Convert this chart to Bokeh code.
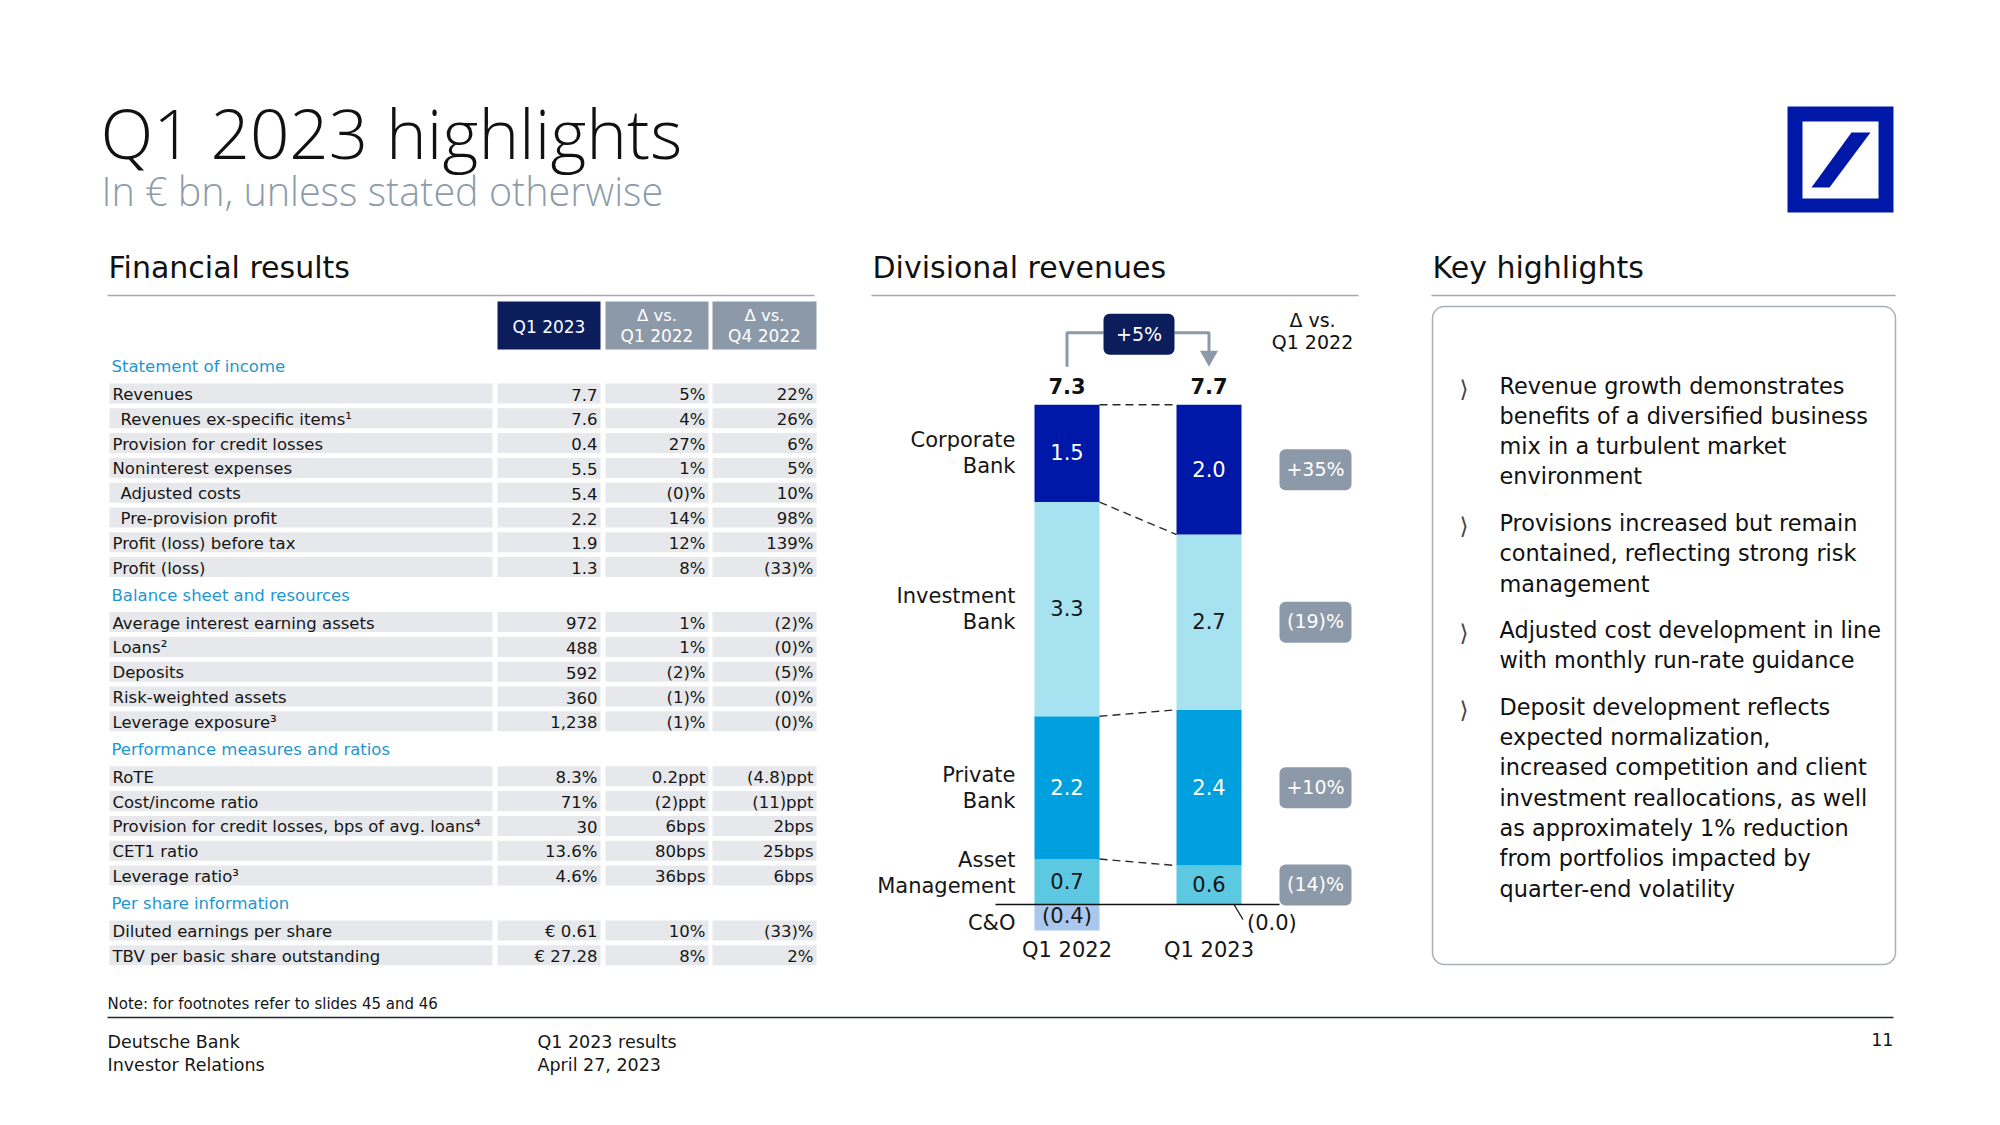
import math
from bokeh.plotting import figure
from bokeh.models import Range1d
from bokeh.core.properties import value
from bokeh.embed import file_html
from bokeh.resources import INLINE

# ---------------- data ----------------
table_col_titles = [["Q1 2023"], ["Δ vs.", "Q1 2022"], ["Δ vs.", "Q4 2022"]]

section_titles = ["Statement of income", "Balance sheet and resources",
                  "Performance measures and ratios", "Per share information"]

income_labels = ["Revenues", "Revenues ex-specific items¹", "Provision for credit losses",
                 "Noninterest expenses", "Adjusted costs", "Pre-provision profit",
                 "Profit (loss) before tax", "Profit (loss)"]
income_q1_2023 = ["7.7", "7.6", "0.4", "5.5", "5.4", "2.2", "1.9", "1.3"]
income_vs_q1_2022 = ["5%", "4%", "27%", "1%", "(0)%", "14%", "12%", "8%"]
income_vs_q4_2022 = ["22%", "26%", "6%", "5%", "10%", "98%", "139%", "(33)%"]

balance_labels = ["Average interest earning assets", "Loans²", "Deposits",
                  "Risk-weighted assets", "Leverage exposure³"]
balance_q1_2023 = ["972", "488", "592", "360", "1,238"]
balance_vs_q1_2022 = ["1%", "1%", "(2)%", "(1)%", "(1)%"]
balance_vs_q4_2022 = ["(2)%", "(0)%", "(5)%", "(0)%", "(0)%"]

perf_labels = ["RoTE", "Cost/income ratio", "Provision for credit losses, bps of avg. loans⁴",
               "CET1 ratio", "Leverage ratio³"]
perf_q1_2023 = ["8.3%", "71%", "30", "13.6%", "4.6%"]
perf_vs_q1_2022 = ["0.2ppt", "(2)ppt", "6bps", "80bps", "36bps"]
perf_vs_q4_2022 = ["(4.8)ppt", "(11)ppt", "2bps", "25bps", "6bps"]

share_labels = ["Diluted earnings per share", "TBV per basic share outstanding"]
share_q1_2023 = ["€ 0.61", "€ 27.28"]
share_vs_q1_2022 = ["10%", "8%"]
share_vs_q4_2022 = ["(33)%", "2%"]

indented_labels = ["Revenues ex-specific items¹", "Adjusted costs", "Pre-provision profit"]

divisions = [["Corporate", "Bank"], ["Investment", "Bank"], ["Private", "Bank"],
             ["Asset", "Management"], ["C&O"]]
periods = ["Q1 2022", "Q1 2023"]
rev_q1_2022 = [1.5, 3.3, 2.2, 0.7, -0.4]
rev_q1_2023 = [2.0, 2.7, 2.4, 0.6, -0.0]
rev_totals = [7.3, 7.7]
total_growth = "+5%"
division_growth = ["+35%", "(19)%", "+10%", "(14)%"]

highlights = [
    ["Revenue growth demonstrates", "benefits of a diversified business",
     "mix in a turbulent market", "environment"],
    ["Provisions increased but remain", "contained, reflecting strong risk", "management"],
    ["Adjusted cost development in line", "with monthly run-rate guidance"],
    ["Deposit development reflects", "expected normalization,",
     "increased competition and client", "investment reallocations, as well",
     "as approximately 1% reduction", "from portfolios impacted by",
     "quarter-end volatility"],
]

# ---------------- layout / style ----------------
W, H = 1984, 1100
TOP, BOTTOM = 0, H
ZERO_Y = 904.0
PX_PER_BN = 64.9

NAVY = "#0B1E5B"
DBBLUE = "#0018A8"
GREY = "#8C99A8"
BAND = "#E6E8EB"
HEAD_BLUE = "#1E96D2"
INK = "#161616"
FONT = "DejaVu Sans"
TITLE_FONT = "'Open Sans Light', 'Open Sans'"
seg_colors = ["#0018A8", "#A6E2F0", "#00A0DE", "#5CC8E2", "#AAC8EE"]
seg_text = ["white", INK, "white", INK, INK]

p = figure(width=W, height=H, output_backend="svg", toolbar_location=None,
           x_range=Range1d(0, W), y_range=Range1d(BOTTOM, TOP),
           x_axis_type=None, y_axis_type=None, min_border=0,
           outline_line_color=None, background_fill_color="white")
p.xgrid.visible = False
p.ygrid.visible = False
p.extra_y_ranges = {"bn": Range1d(start=(ZERO_Y - BOTTOM) / PX_PER_BN,
                                  end=(ZERO_Y - TOP) / PX_PER_BN)}


def bn(px):
    return px / PX_PER_BN


def txt(x, y, s, size, color=INK, align="left", baseline="middle", font=FONT,
        style="normal", rng="default"):
    p.text(x=[x], y=[y], text=[s], text_font=value(font), text_font_size=f"{size}px",
           text_color=color, text_align=align, text_baseline=baseline,
           text_font_style=style, y_range_name=rng)


# ---------------- title & logo ----------------
txt(100, 131, "Q1 2023 highlights", 69, color="#111111", font=TITLE_FONT)
txt(101, 190, "In € bn, unless stated otherwise", 39.5, color="#8D9BAA", font=TITLE_FONT)

p.quad(left=[1787], right=[1893], top=[106], bottom=[212], fill_color=DBBLUE, line_color=None)
p.quad(left=[1802], right=[1878], top=[121], bottom=[198], fill_color="white", line_color=None)
p.patch(x=[1811, 1829, 1870, 1851], y=[187, 187, 132, 132], fill_color=DBBLUE, line_color=None)

# ---------------- section headings ----------------
for x0, x1, label in [(107, 814, "Financial results"), (871, 1358, "Divisional revenues"),
                      (1431, 1895, "Key highlights")]:
    txt(x0 + 1, 267, label, 30, color="#111111")
    p.segment(x0=[x0], x1=[x1], y0=[295], y1=[295], line_color="#A4A9AF", line_width=1.3)

# ---------------- table ----------------
col_boxes = [(497, 600), (605, 708), (712, 816)]
col_fill = [NAVY, GREY, GREY]
for (l, r), fill, lines in zip(col_boxes, col_fill, table_col_titles):
    p.quad(left=[l], right=[r], top=[301], bottom=[349], fill_color=fill, line_color=None)
    cx = (l + r) / 2
    if len(lines) == 1:
        txt(cx, 326, lines[0], 17, color="white", align="center")
    else:
        txt(cx, 315, lines[0], 16.5, color="white", align="center")
        txt(cx, 335, lines[1], 17, color="white", align="center")

sections = [
    (section_titles[0], income_labels, income_q1_2023, income_vs_q1_2022, income_vs_q4_2022),
    (section_titles[1], balance_labels, balance_q1_2023, balance_vs_q1_2022, balance_vs_q4_2022),
    (section_titles[2], perf_labels, perf_q1_2023, perf_vs_q1_2022, perf_vs_q4_2022),
    (section_titles[3], share_labels, share_q1_2023, share_vs_q1_2022, share_vs_q4_2022),
]
y = 366.0
first = True
for title, labels, v1, v2, v3 in sections:
    if not first:
        y += 28
    first = False
    txt(111, y, title, 16.5, color=HEAD_BLUE)
    y += 27
    for i, lab in enumerate(labels):
        if i > 0:
            y += 24.8
        p.quad(left=[109], right=[492], top=[y - 10], bottom=[y + 10], fill_color=BAND,
               line_color=None)
        for (l, r) in col_boxes:
            p.quad(left=[l], right=[r], top=[y - 10], bottom=[y + 10], fill_color=BAND,
                   line_color=None)
        lx = 120 if lab in indented_labels else 112
        txt(lx, y + 1, lab, 16.5)
        for (l, r), vals in zip(col_boxes, [v1, v2, v3]):
            txt(r - 3, y + 1, vals[i], 16.5, align="right")

txt(107, 1003, "Note: for footnotes refer to slides 45 and 46", 15)

# ---------------- divisional revenues chart ----------------
PERIOD_X = [1066.5, 1208.5]
BAR_W = 65
period_vals = [rev_q1_2022, rev_q1_2023]

cum_tops = []
for px_c, vals in zip(PERIOD_X, period_vals):
    # positive segments stacked from the bottom: AM, PB, IB, CB
    base = 0.0
    tops = {}
    for k in [3, 2, 1, 0]:
        top = base + vals[k]
        p.quad(left=[px_c - BAR_W / 2], right=[px_c + BAR_W / 2], bottom=[base], top=[top],
               fill_color=seg_colors[k], line_color=None, y_range_name="bn")
        tops[k] = (base, top)
        base = top
    co = vals[4]
    if abs(co) > 0:
        p.quad(left=[px_c - BAR_W / 2], right=[px_c + BAR_W / 2], bottom=[co], top=[0],
               fill_color=seg_colors[4], line_color=None, y_range_name="bn")
        tops[4] = (co, 0.0)
    cum_tops.append(tops)

# value labels
for j, (px_c, vals) in enumerate(zip(PERIOD_X, period_vals)):
    for k in range(5):
        v = vals[k]
        neg = math.copysign(1, v) < 0
        s = f"({abs(v):.1f})" if neg else f"{v:.1f}"
        if k in cum_tops[j]:
            b, t = cum_tops[j][k]
            txt(px_c, (b + t) / 2 + bn(1), s, 21, color=seg_text[k], align="center", rng="bn")
        else:
            # zero-sized C&O: label outside with a leader line
            p.segment(x0=[px_c + 25], x1=[px_c + 34], y0=[0], y1=[bn(-15)],
                      line_color=INK, line_width=1.3, y_range_name="bn")
            txt(px_c + 38, bn(-18), s, 21, color=INK, align="left", rng="bn")

# dashed connectors between bars
for k in [3, 2, 1, 0]:
    y0 = cum_tops[0][k][1]
    y1 = cum_tops[1][k][1]
    p.segment(x0=[PERIOD_X[0] + BAR_W / 2], x1=[PERIOD_X[1] - BAR_W / 2], y0=[y0], y1=[y1],
              line_color="#2A2A2A", line_width=1.4, line_dash="8 5", y_range_name="bn")

# zero axis
p.segment(x0=[995], x1=[1279], y0=[0], y1=[0], line_color="#111111", line_width=1.5,
          y_range_name="bn")

# totals
stack_top = max(cum_tops[0][0][1], cum_tops[1][0][1])
for px_c, tot in zip(PERIOD_X, rev_totals):
    txt(px_c, stack_top + bn(18.5), f"{tot:.1f}", 21, color="#111111", align="center",
        style="bold", rng="bn")

# growth bracket
p.line(x=[PERIOD_X[0], PERIOD_X[0], 1103], y=[stack_top + bn(38), stack_top + bn(72),
                                              stack_top + bn(72)],
       line_color=GREY, line_width=3, y_range_name="bn")
p.line(x=[1174, PERIOD_X[1], PERIOD_X[1]], y=[stack_top + bn(72), stack_top + bn(72),
                                              stack_top + bn(52)],
       line_color=GREY, line_width=3, y_range_name="bn")
p.patch(x=[PERIOD_X[1] - 9, PERIOD_X[1] + 9, PERIOD_X[1]],
        y=[stack_top + bn(54), stack_top + bn(54), stack_top + bn(38)],
        fill_color=GREY, line_color=None, y_range_name="bn")
p.quad(left=[1103], right=[1174], top=[stack_top + bn(91)], bottom=[stack_top + bn(50)],
       fill_color=NAVY, line_color=None, border_radius=6, y_range_name="bn")
txt(1138.5, stack_top + bn(71), total_growth, 19, color="white", align="center", rng="bn")

txt(1312, 319, "Δ vs.", 19, color="#111111", align="center")
txt(1312, 341, "Q1 2022", 19, color="#111111", align="center")

# growth badges next to Q1 2023 segments
for k, g in enumerate(division_growth):
    b, t = cum_tops[1][k]
    mid = (b + t) / 2
    p.quad(left=[1279], right=[1351], top=[mid + bn(20.5)], bottom=[mid - bn(20.5)],
           fill_color=GREY, line_color=None, border_radius=6, y_range_name="bn")
    txt(1315, mid + bn(1), g, 19, color="white", align="center", rng="bn")

# division labels (left)
label_nudge_px = [0, 0, 0, 9, -6]
for k, lines in enumerate(divisions):
    b, t = cum_tops[0][k]
    mid = (b + t) / 2 + bn(label_nudge_px[k])
    if len(lines) == 1:
        txt(1015, mid, lines[0], 21, align="right", rng="bn")
    else:
        txt(1015, mid + bn(13), lines[0], 21, align="right", rng="bn")
        txt(1015, mid - bn(13), lines[1], 21, align="right", rng="bn")

# period labels
co_bottom = min(v[4] for v in period_vals)
for px_c, per in zip(PERIOD_X, periods):
    txt(px_c, co_bottom - bn(20), per, 21, align="center", rng="bn")

# ---------------- key highlights ----------------
p.quad(left=[1432], right=[1895], top=[306], bottom=[964], fill_color=None,
       line_color="#A9B0B8", line_width=1.5, border_radius=12)
yy = 385.0
for bi, lines in enumerate(highlights):
    if bi > 0:
        yy += 46.5
    txt(1459, yy + 3, "⟩", 23, color="#444444", align="left")
    for li, line in enumerate(lines):
        if li > 0:
            yy += 30.3
        txt(1499, yy, line, 22.4, color="#111111")

# ---------------- footer ----------------
p.segment(x0=[107], x1=[1893], y0=[1017], y1=[1017], line_color="#1F2A36", line_width=1.6)
txt(107, 1041, "Deutsche Bank", 17.5)
txt(107, 1064, "Investor Relations", 17.5)
txt(537, 1041, "Q1 2023 results", 17.5)
txt(537, 1064, "April 27, 2023", 17.5)
txt(1893, 1039, "11", 17.5, align="right")

open("out.html", "w").write(file_html(p, INLINE))
